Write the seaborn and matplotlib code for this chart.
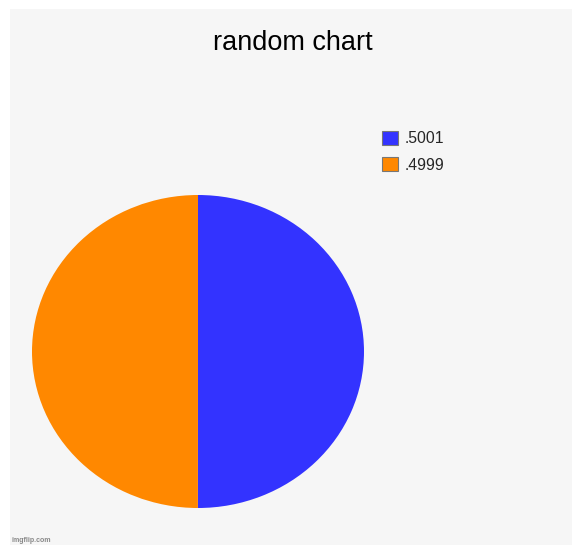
import matplotlib
matplotlib.use("Agg")
import matplotlib.pyplot as plt
import seaborn as sns
from matplotlib.patches import Rectangle, Patch

labels = [".5001", ".4999"]
values = [0.5001, 0.4999]
colors = ["#3333ff", "#ff8800"]
title = "random chart"

sns.set_style("white")
plt.rcParams['font.family'] = ['Liberation Sans', 'DejaVu Sans']

W, H = 572, 545
fig = plt.figure(figsize=(W / 100, H / 100), dpi=100)
fig.patch.set_facecolor("white")
fig.add_artist(Rectangle((10 / W, 0), 1 - 10 / W, 1 - 9 / H, transform=fig.transFigure,
                         facecolor="#f6f6f6", edgecolor="none", zorder=0))

# pie axes
left, right, top, bottom = 32, 364, 195, 508
ax = fig.add_axes([left / W, 1 - bottom / H, (right - left) / W, (bottom - top) / H])
ax.pie(values, colors=colors, startangle=90, counterclock=False,
       wedgeprops=dict(linewidth=0), radius=1)
ax.set_aspect("auto")
ax.set_xlim(-1, 1)
ax.set_ylim(-1, 1)
ax.axis("off")

fig.text(293 / W, 1 - 43 / H, title, ha="center", va="center", fontsize=19.5, color="black")

handles = [Patch(facecolor=c, edgecolor="#777777", linewidth=0.8) for c in colors]
fig.legend(handles, labels, loc="upper left", bbox_to_anchor=(382 / W, 1 - 131 / H),
           frameon=False, fontsize=11.3, handlelength=1.0, handleheight=1.0,
           handletextpad=0.45, labelspacing=0.7, borderpad=0, borderaxespad=0)

fig.text(12 / W, 1 - 541 / H, "imgflip.com", fontsize=5, color="#888888",
         fontweight="bold", ha="left", va="center")

fig.savefig("out.png", dpi=100)
